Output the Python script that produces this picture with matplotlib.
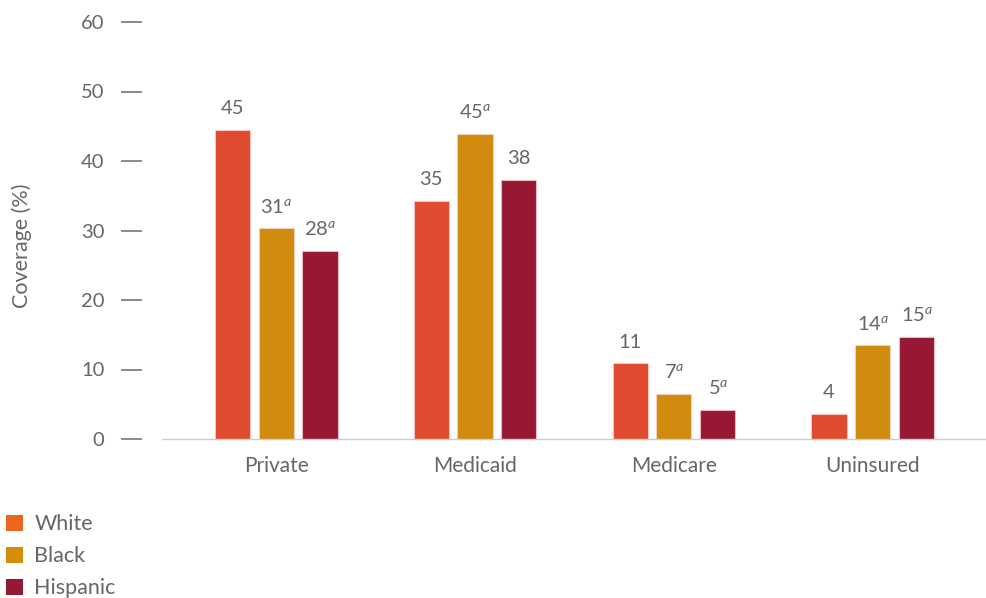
import matplotlib
matplotlib.use("Agg")
import matplotlib.pyplot as plt
import numpy as np
from matplotlib.patches import Patch

categories = ["Private", "Medicaid", "Medicare", "Uninsured"]
series_names = ["White", "Black", "Hispanic"]
white = [44.5, 34.3, 10.9, 3.6]
black = [30.3, 43.9, 6.5, 13.5]
hispanic = [27.1, 37.3, 4.2, 14.7]
white_labels = ["45", "35", "11", "4"]
black_labels = ["31", "45", "7", "14"]
hispanic_labels = ["28", "38", "5", "15"]
black_sig = [True, True, True, True]
hispanic_sig = [True, False, True, True]
white_sig = [False, False, False, False]
yticks = [0, 10, 20, 30, 40, 50, 60]

bar_colors = ["#E04A2F", "#D18B0E", "#961833"]
legend_colors = ["#EE661C", "#D68E0A", "#961833"]
text_color = "#666666"

plt.rcParams['font.family'] = ['Lato', 'DejaVu Sans']
plt.rcParams['mathtext.fontset'] = 'custom'
plt.rcParams['mathtext.rm'] = 'Lato'
plt.rcParams['mathtext.it'] = 'Lato:italic'

W, H = 987, 598
fig = plt.figure(figsize=(W / 100, H / 100), dpi=100)
ax = fig.add_axes([162 / W, (H - 439) / H, (985 - 162) / W, (439 - 22) / H])

x = np.arange(len(categories))
width = 0.176
offset = 0.221
data = [white, black, hispanic]
labels = [white_labels, black_labels, hispanic_labels]
sigs = [white_sig, black_sig, hispanic_sig]
for i, (vals, lab, sig) in enumerate(zip(data, labels, sigs)):
    pos = x + (i - 1) * offset
    bars = ax.bar(pos, vals, width=width, color=bar_colors[i],
                  edgecolor=(1, 0.85, 0.85, 0.6), linewidth=0.8, zorder=2)
    for b, l, s in zip(bars, lab, sig):
        txt = l + (r"$^{\mathit{a}}$" if s else "")
        ax.annotate(txt, (b.get_x() + b.get_width() / 2, b.get_height()),
                    xytext=(0, 9), textcoords="offset points",
                    ha="center", va="bottom", fontsize=14.5, color=text_color)

ax.set_xlim(-0.573, 3.563)
ax.set_ylim(0, 60)
ax.set_yticks(yticks)
ax.set_yticklabels([str(t) for t in yticks])
ax.set_xticks(x)
ax.set_xticklabels(categories)

for s in ["top", "right", "left"]:
    ax.spines[s].set_visible(False)
ax.spines['left'].set_position(('outward', 14.4))
ax.spines['bottom'].set_color("#CCCCCC")
ax.spines['bottom'].set_linewidth(1.0)

ax.tick_params(axis='y', direction='out', length=15.1, width=1.2,
               color="#777777", pad=12, labelsize=14.5, labelcolor=text_color)
ax.tick_params(axis='x', length=0, pad=12, labelsize=15, labelcolor=text_color)

fig.text(22 / W, 1 - 246 / H, "Coverage (%)", rotation=90, ha="center",
         va="center", fontsize=15.5, color=text_color)

handles = [Patch(facecolor=c, edgecolor='none') for c in legend_colors]
leg = fig.legend(handles, series_names, loc="upper left",
                 bbox_to_anchor=(0 / W, 1 - 508 / H), frameon=False,
                 fontsize=15.5, handlelength=0.75, handleheight=0.75,
                 handletextpad=0.55, labelspacing=0.55, borderaxespad=0,
                 borderpad=0.3)
for t in leg.get_texts():
    t.set_color(text_color)

fig.savefig("out.png", dpi=100)
